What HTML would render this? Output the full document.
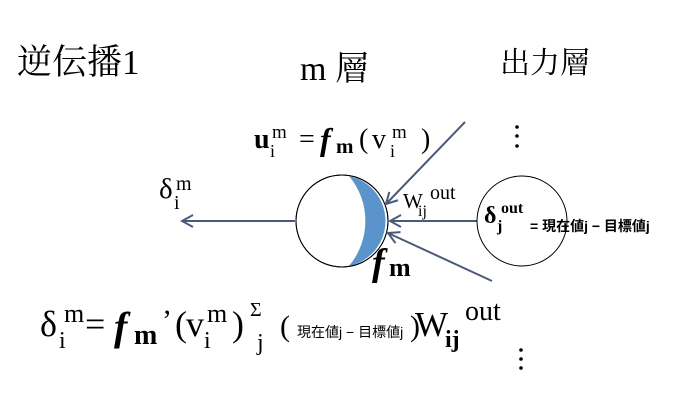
<!DOCTYPE html>
<html><head><meta charset="utf-8"><style>
html,body{margin:0;padding:0;background:#fff;width:692px;height:408px;overflow:hidden}
text{font-family:"Liberation Serif","Noto Serif CJK SC",serif;fill:#000}
.s{font-family:"Liberation Sans","Noto Sans CJK JP",sans-serif}
</style></head><body>
<svg width="692" height="408" viewBox="0 0 692 408" xmlns="http://www.w3.org/2000/svg">
<defs><marker id="a" markerWidth="14" markerHeight="14" refX="12" refY="7" orient="auto" markerUnits="userSpaceOnUse"><path d="M1,1 L12,7 L1,13" fill="none" stroke="#4a5a78" stroke-width="2"/></marker></defs>
<text x="17" y="74" font-size="35">逆伝播1</text>
<text x="300" y="80" font-size="34">m 層</text>
<text x="500" y="73" font-size="30">出力層</text>
<!-- u formula -->
<text x="254" y="148" font-size="28" font-weight="bold">u</text>
<text x="270" y="157" font-size="18">i</text>
<text x="272" y="138" font-size="19">m</text>
<text x="299" y="148" font-size="28">=</text>
<text x="320" y="150" font-size="32" font-weight="bold" font-style="italic">f</text>
<text x="336" y="153" font-size="21" font-weight="bold">m</text>
<text x="359" y="148" font-size="28">(</text>
<text x="372" y="148" font-size="28">v</text>
<text x="390" y="157" font-size="18">i</text>
<text x="392" y="138" font-size="19">m</text>
<text x="421" y="148" font-size="28">)</text>
<!-- dots -->
<circle cx="517" cy="127" r="1.8"/><circle cx="517" cy="136" r="1.8"/><circle cx="517" cy="146" r="1.8"/>
<circle cx="521" cy="350" r="1.8"/><circle cx="521" cy="359" r="1.8"/><circle cx="521" cy="368" r="1.8"/>
<!-- delta left -->
<text x="159" y="198" font-size="29">δ</text>
<text x="174" y="209" font-size="20">i</text>
<text x="176" y="190" font-size="20">m</text>
<!-- hidden node -->
<circle cx="342" cy="221" r="46" fill="#fff" stroke="#000" stroke-width="1"/>
<path d="M349,176 A46,46 0 0 1 349,266 A70,70 0 0 0 349,176 Z" fill="#5b93cc"/>
<circle cx="342" cy="221" r="46" fill="none" stroke="#000" stroke-width="1"/>
<!-- arrows -->
<line x1="295" y1="221" x2="182" y2="221" stroke="#4a5a78" stroke-width="2" marker-end="url(#a)"/>
<line x1="465" y1="122" x2="386" y2="204" stroke="#4a5a78" stroke-width="2" marker-end="url(#a)"/>
<line x1="477" y1="221" x2="390" y2="221" stroke="#4a5a78" stroke-width="2" marker-end="url(#a)"/>
<line x1="492" y1="281" x2="388" y2="233" stroke="#4a5a78" stroke-width="2" marker-end="url(#a)"/>
<text x="403" y="208" font-size="21">W</text>
<text x="418" y="216" font-size="16">ij</text>
<text x="430" y="199" font-size="20">out</text>
<!-- output node -->
<circle cx="522" cy="221" r="45" fill="none" stroke="#000" stroke-width="1"/>
<text x="484" y="223" font-size="24" font-weight="bold">δ</text>
<text x="497" y="231" font-size="16" font-weight="bold">j</text>
<text x="501" y="213" font-size="16" font-weight="bold">out</text>
<text class="s" x="530" y="231" font-size="14" font-weight="bold">= 現在値j − 目標値j</text>
<text x="372" y="275" font-size="38" font-weight="bold" font-style="italic">f</text>
<text x="389" y="276" font-size="26" font-weight="bold">m</text>
<!-- bottom formula -->
<text x="40" y="336" font-size="36">δ</text>
<text x="59" y="348" font-size="24">i</text>
<text x="64" y="322" font-size="26">m</text>
<text x="85" y="336" font-size="36">=</text>
<text x="114" y="340" font-size="40" font-weight="bold" font-style="italic">f</text>
<text x="134" y="344" font-size="28" font-weight="bold">m</text>
<text x="162" y="330" font-size="30">’</text>
<text x="175" y="336" font-size="36">(</text>
<text x="186" y="336" font-size="36">v</text>
<text x="204" y="348" font-size="24">i</text>
<text x="207" y="322" font-size="26">m</text>
<text x="232" y="336" font-size="36">)</text>
<text x="250" y="316" font-size="20">Σ</text>
<text x="257" y="350" font-size="24">j</text>
<text x="280" y="336" font-size="30">(</text>
<text class="s" x="297" y="337" font-size="14">現在値j − 目標値j</text>
<text x="410" y="336" font-size="30">)</text>
<text x="415" y="336" font-size="35">W</text>
<text x="445" y="347" font-size="24" font-weight="bold">ij</text>
<text x="465" y="320" font-size="28">out</text>
</svg>
</body></html>
